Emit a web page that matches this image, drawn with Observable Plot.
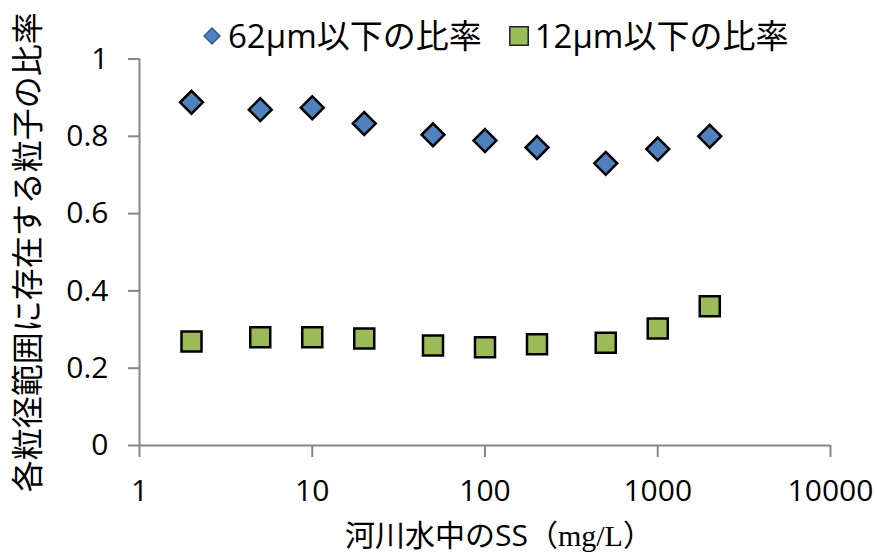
<!DOCTYPE html>
<html>
<head>
<meta charset="utf-8">
<script src="https://cdn.jsdelivr.net/npm/d3@7"></script>
<script src="https://cdn.jsdelivr.net/npm/@observablehq/plot@0.6"></script>
<style>
  body { margin: 0; background: white; }
  #wrap { position: relative; width: 877px; height: 556px; overflow: hidden; }
  #legend { position: absolute; left: 199px; top: 15px; display: flex; align-items: center;
            font-family: 'Open Sans', 'Noto Sans CJK JP', sans-serif; font-size: 33px; line-height: 42px; color: #000; }
  #legend .item { display: flex; align-items: center; }
  #legend .item + .item { margin-left: 24px; }
  #legend svg { display: block; margin-right: 3px; }
</style>
</head>
<body>
<div id="wrap"><div id="legend"></div></div>
<script>
// ---- data ----
const ss = [2, 5, 10, 20, 50, 100, 200, 500, 1000, 2000];
const ratio62 = [0.888, 0.869, 0.874, 0.833, 0.804, 0.789, 0.771, 0.730, 0.767, 0.800];
const ratio12 = [0.269, 0.280, 0.280, 0.277, 0.259, 0.254, 0.262, 0.266, 0.303, 0.360];
const seriesNames = ["62μm以下の比率", "12μm以下の比率"];
const xTicks = [1, 10, 100, 1000, 10000];
const yTicks = [0, 0.2, 0.4, 0.6, 0.8, 1];
const xLabel = "河川水中のSS（mg/L）";
const yLabel = "各粒径範囲に存在する粒子の比率";

const d62 = ss.map((x, i) => ({x, y: ratio62[i]}));
const d12 = ss.map((x, i) => ({x, y: ratio12[i]}));

const axisGray = "#868686";
const fill62 = "#4F81BD";
const fill12 = "#9BBB59";

const chart = Plot.plot({
  width: 877,
  height: 556,
  marginLeft: 139,
  marginRight: 47,
  marginTop: 58.5,
  marginBottom: 111,
  style: {fontFamily: "'Open Sans','Noto Sans CJK JP',sans-serif", fontSize: "30px", color: "#000", background: "white", overflow: "visible"},
  x: {type: "log", domain: [1, 10000]},
  y: {domain: [0, 1]},
  marks: [
    Plot.axisX({ticks: xTicks, tickFormat: d => String(d), tickSize: 12, tickPadding: 22, fontSize: 30,
      stroke: axisGray, strokeWidth: 2, label: xLabel, labelAnchor: "center", labelOffset: 100, labelArrow: "none"}),
    Plot.axisY({ticks: yTicks, tickFormat: d => String(+d.toFixed(1)), tickSize: 11, tickPadding: 20, fontSize: 30,
      stroke: axisGray, strokeWidth: 2, label: yLabel, labelAnchor: "center", labelOffset: 123, labelArrow: "none"}),
    Plot.ruleX([1], {stroke: axisGray, strokeWidth: 2}),
    Plot.ruleY([0], {stroke: axisGray, strokeWidth: 2}),
    Plot.dot(d62, {x: "x", y: "y", symbol: "diamond2", r: 10.3, fill: fill62, stroke: "#000", strokeWidth: 2.5}),
    Plot.dot(d12, {x: "x", y: "y", symbol: "square", r: 11.3, fill: fill12, stroke: "#000", strokeWidth: 2.5})
  ]
});

// style axis labels
const yl = chart.querySelector('g[aria-label="y-axis label"]');
if (yl) yl.setAttribute("font-size", "32px");
const xl = chart.querySelector('g[aria-label="x-axis label"]');
if (xl) {
  xl.setAttribute("font-size", "30px");
  const t = xl.querySelector("text");
  if (t) {
    t.textContent = "";
    t.setAttribute("dx", "14");
    const parts = [["河川水中のSS（", null], ["mg/L", "'Liberation Serif', serif"], ["）", null]];
    for (const [s, f] of parts) {
      const ts = document.createElementNS("http://www.w3.org/2000/svg", "tspan");
      ts.textContent = s;
      if (f) ts.setAttribute("font-family", f);
      t.appendChild(ts);
    }
  }
}
document.getElementById("wrap").prepend(chart);

// legend
const legend = d3.select("#legend");
[[seriesNames[0], d3.symbolDiamond2, fill62, 160, "#2f5b8f"], [seriesNames[1], d3.symbolSquare, fill12, 340, "#222"]].forEach(([name, sym, fill, size, stroke]) => {
  const it = legend.append("div").attr("class", "item");
  const s = it.append("svg").attr("width", 26).attr("height", 26);
  s.append("path").attr("transform", "translate(13,13)")
    .attr("d", d3.symbol(sym, size)()).attr("fill", fill).attr("stroke", stroke).attr("stroke-width", 1.5);
  it.append("span").text(name);
});
</script>
</body>
</html>
